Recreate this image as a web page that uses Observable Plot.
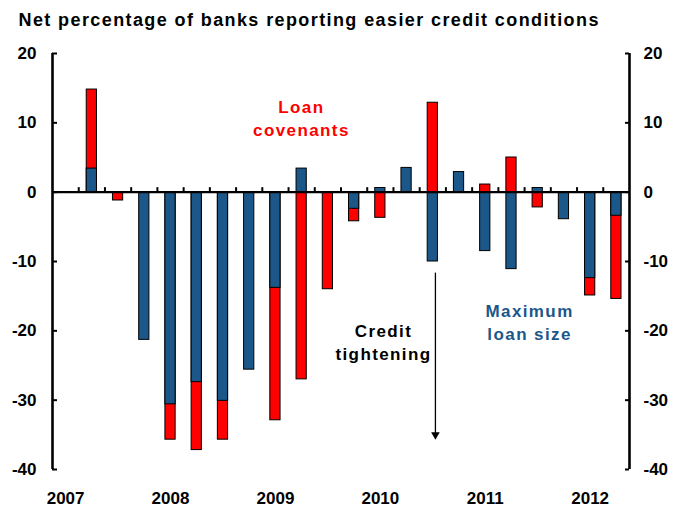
<!DOCTYPE html>
<html>
<head>
<meta charset="utf-8">
<script src="https://cdn.jsdelivr.net/npm/d3@7"></script>
<script src="https://cdn.jsdelivr.net/npm/@observablehq/plot@0.6"></script>
<style>
  html, body { margin: 0; padding: 0; background: #fff; }
  #chart svg g[aria-label="text"] text { letter-spacing: 1.4px; }
</style>
</head>
<body>
<div id="chart"></div>
<script>
const titleText = "Net percentage of banks reporting easier credit conditions";
const quarters = [
  "2007 Q1","2007 Q2","2007 Q3","2007 Q4",
  "2008 Q1","2008 Q2","2008 Q3","2008 Q4",
  "2009 Q1","2009 Q2","2009 Q3","2009 Q4",
  "2010 Q1","2010 Q2","2010 Q3","2010 Q4",
  "2011 Q1","2011 Q2","2011 Q3","2011 Q4",
  "2012 Q1","2012 Q2"
];
// Loan covenants (red, drawn behind); null where hidden / not shown
const covenants = [null, 14.8, -1.2, null, -35.7, -37.2, -35.7, null, -32.9, -27.0, -14.0, -4.2,
                   -3.7, null, 12.9, null, 1.1, 5.0, -2.2, null, -14.9, -15.4];
// Maximum loan size (blue, drawn in front)
const maxLoanSize = [null, 3.4, null, -21.3, -30.6, -27.4, -30.1, -25.6, -13.8, 3.4, null, -2.4,
                     0.6, 3.5, -10.0, 2.9, -8.5, -11.1, 0.6, -3.9, -12.4, -3.4];
const yTicks = [-40, -30, -20, -10, 0, 10, 20];
const yDomain = [-40, 20];

const rows = quarters.map((q, i) => ({q, i, cov: covenants[i], max: maxLoanSize[i]}));
const yearRows = rows.filter(d => d.q.endsWith("Q1"));
const boundaries = rows.slice(1).map(d => d.i);
const edges = [0, quarters.length];

const annotations = [
  {text: "Loan\ncovenants", x: 9.49, y: 10.8, color: "#ff0000"},
  {text: "Credit\ntightening", x: 12.62, y: -21.5, color: "#000000"},
  {text: "Maximum\nloan size", x: 18.19, y: -18.65, color: "#1b5789"}
];
const arrowData = [{x: 14.6, y1: -11.6, y2: -35.0}];

const chart = Plot.plot({
  width: 673,
  height: 507,
  marginLeft: 52,
  marginRight: 44,
  marginTop: 53,
  marginBottom: 38,
  style: {fontFamily: "'Liberation Sans', Arial, sans-serif", fontSize: "17px", fontWeight: "bold", color: "#000", background: "#fff", overflow: "visible"},
  x: {domain: [0, quarters.length], axis: null},
  y: {domain: yDomain, axis: null},
  marks: [
    Plot.rectY(rows.filter(d => d.cov != null), {x1: "i", x2: d => d.i + 1, y1: d => 0, y2: "cov", fill: "#ff0000", stroke: "#000", strokeWidth: 1, insetLeft: 8, insetRight: 8}),
    Plot.rectY(rows.filter(d => d.max != null), {x1: "i", x2: d => d.i + 1, y1: d => 0, y2: "max", fill: "#1b5789", stroke: "#000", strokeWidth: 1, insetLeft: 8, insetRight: 8}),
    Plot.ruleY([0], {stroke: "#000", strokeWidth: 2.2}),
    Plot.ruleX(boundaries, {x: d => d, y1: d => 0, y2: d => 0.65, stroke: "#000", strokeWidth: 2}),
    Plot.ruleX(edges, {x: d => d, y1: d => yDomain[0], y2: d => yDomain[1], stroke: "#000", strokeWidth: 2.6}),
    Plot.ruleY(yTicks, {y: d => d, insetRight: 572, stroke: "#000", strokeWidth: 2}),
    Plot.ruleY(yTicks, {y: d => d, insetLeft: 573, stroke: "#000", strokeWidth: 2}),
    Plot.axisY({anchor: "left", ticks: yTicks, tickSize: 0, tickPadding: 16, tickFormat: d => String(d)}),
    Plot.axisY({anchor: "right", ticks: yTicks, tickSize: 0, tickPadding: 14, tickFormat: d => String(d)}),
    Plot.axisX({anchor: "bottom", ticks: yearRows.map(d => d.i + 0.5), tickSize: 0, tickPadding: 22,
      tickFormat: v => yearRows.find(d => d.i + 0.5 === v).q.slice(0, 4), fontSize: 17}),
    Plot.link(arrowData, {x1: "x", x2: "x", y1: "y1", y2: "y2", stroke: "#000", strokeWidth: 1.3}),
    Plot.dot(arrowData, {x: "x", y: "y2", symbol: "triangle", r: 3.2, rotate: 180, fill: "#000", stroke: null}),
    Plot.text(annotations, {x: "x", y: "y", text: "text", fill: "color", fontSize: 17, lineHeight: 1.35, lineAnchor: "middle", textAnchor: "middle"}),
    Plot.text([titleText], {frameAnchor: "top-left", dx: -34, dy: -33.3, textAnchor: "start", lineAnchor: "middle", fontSize: 18, fill: "#000"})
  ]
});
document.getElementById("chart").appendChild(chart);
</script>
</body>
</html>
